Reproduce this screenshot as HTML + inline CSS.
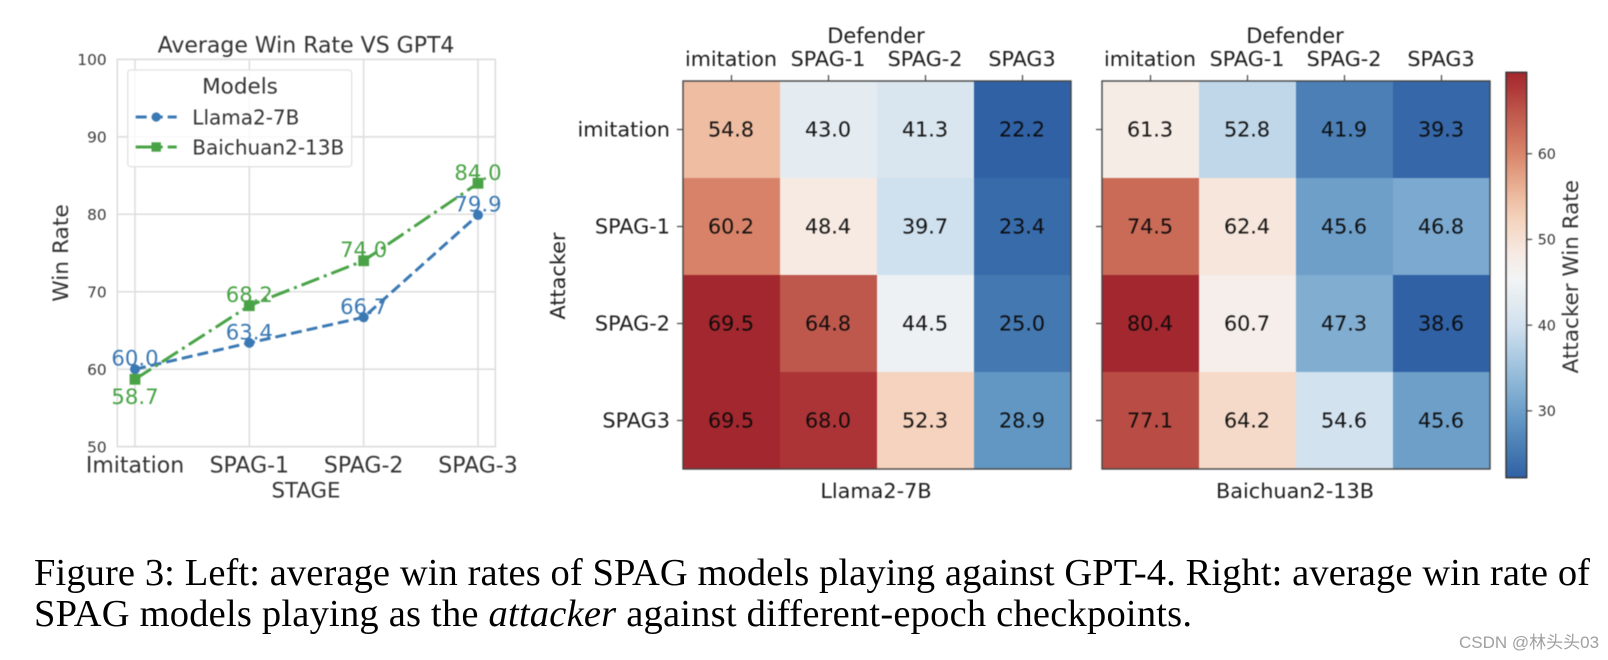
<!DOCTYPE html>
<html lang="en">
<head>
<meta charset="utf-8">
<title>Figure 3: win rates of SPAG models</title>
<style>
  html, body { margin: 0; padding: 0; background: #fff; }
  body { width: 1608px; height: 660px; overflow: hidden; }
  svg { display: block; }
  .dv { font-family: "DejaVu Sans", sans-serif; }
  #charts { filter: blur(0.5px); }
  #caption { filter: blur(0.3px); }
</style>
</head>
<body>
<svg id="figure" xmlns="http://www.w3.org/2000/svg" width="1608" height="660" viewBox="0 0 1608 660">
  <g id="charts" class="dv">
    <g id="line-chart">
      <text x="306" y="52.5" font-size="22" text-anchor="middle" fill="#333">Average Win Rate VS GPT4</text>
      <text transform="translate(68,253) rotate(-90)" font-size="21.7" text-anchor="middle" fill="#333">Win Rate</text>
      <text x="306" y="497.5" font-size="21.3" text-anchor="middle" fill="#333">STAGE</text>
    </g>
    <g id="heatmap-llama"></g>
    <g id="heatmap-baichuan"></g>
    <g id="colorbar">
      <text transform="translate(1578,276.7) rotate(-90)" font-size="21.5" text-anchor="middle" fill="#333">Attacker Win Rate</text>
    </g>
    <text transform="translate(565,276) rotate(-90)" font-size="20.8" text-anchor="middle" fill="#222">Attacker</text>
  </g>
  <g id="caption" font-family="'Liberation Serif', serif" font-size="38.5" fill="#000">
    <text x="34" y="585" textLength="1556" lengthAdjust="spacing">Figure 3: Left: average win rates of SPAG models playing against GPT-4. Right: average win rate of</text>
    <text x="34" y="626" textLength="1158" lengthAdjust="spacing">SPAG models playing as the <tspan font-style="italic">attacker</tspan> against different-epoch checkpoints.</text>
  </g>
  <text x="1459" y="648" font-size="17" fill="#a0a0a0" font-family="'Liberation Sans', 'Noto Sans CJK SC', sans-serif">CSDN @林头头03</text>
</svg>
<script>
// ---------- chart data ----------
const stages = ['Imitation', 'SPAG-1', 'SPAG-2', 'SPAG-3'];
const llamaWinRates = [60.0, 63.4, 66.7, 79.9];
const baichuanWinRates = [58.7, 68.2, 74.0, 84.0];
const winRateTicks = [50, 60, 70, 80, 90, 100];
const defenders = ['imitation', 'SPAG-1', 'SPAG-2', 'SPAG3'];
const attackers = ['imitation', 'SPAG-1', 'SPAG-2', 'SPAG3'];
const llamaMatrix = [
  [54.8, 43.0, 41.3, 22.2],
  [60.2, 48.4, 39.7, 23.4],
  [69.5, 64.8, 44.5, 25.0],
  [69.5, 68.0, 52.3, 28.9]
];
const baichuanMatrix = [
  [61.3, 52.8, 41.9, 39.3],
  [74.5, 62.4, 45.6, 46.8],
  [80.4, 60.7, 47.3, 38.6],
  [77.1, 64.2, 54.6, 45.6]
];
const colorbarTicks = [30, 40, 50, 60];

// ---------- helpers ----------
const NS = 'http://www.w3.org/2000/svg';
function make(tag, attrs, parent, text) {
  const el = document.createElementNS(NS, tag);
  for (const k in attrs) el.setAttribute(k, attrs[k]);
  if (text !== undefined) el.textContent = text;
  parent.appendChild(el);
  return el;
}
function fmt(v) { return v.toFixed(1); }

// ---------- colour map (diverging, sampled from the colour bar) ----------
const cmapStops = [
  [0.00, '#3061a5'], [0.06, '#4478b0'], [0.14, '#6196c4'], [0.25, '#94bbd9'],
  [0.37, '#cfe0ee'], [0.44, '#e4ecf1'], [0.49, '#f2f4f5'], [0.55, '#f6ebe4'],
  [0.635, '#f5d4bf'], [0.69, '#eebda2'], [0.80, '#d9856a'], [0.90, '#bf584c'],
  [0.97, '#ac3336'], [1.00, '#a2272e']
];
function hexRgb(h) {
  return [parseInt(h.slice(1, 3), 16), parseInt(h.slice(3, 5), 16), parseInt(h.slice(5, 7), 16)];
}
function cmap(t) {
  const c = Math.max(0, Math.min(1, t));
  for (let i = 1; i < cmapStops.length; i++) {
    if (c <= cmapStops[i][0]) {
      const a = cmapStops[i - 1], b = cmapStops[i];
      const f = (c - a[0]) / (b[0] - a[0]);
      const A = hexRgb(a[1]), B = hexRgb(b[1]);
      return 'rgb(' + A.map((x, j) => Math.round(x + (B[j] - x) * f)).join(',') + ')';
    }
  }
  return cmapStops[cmapStops.length - 1][1];
}

// ---------- line chart ----------
const plotL = 117.3, plotR = 495.3, plotT = 59.3, plotB = 446.7;
const yMin = 50, yMax = 100;
function lineX(i) { return 135 + i * (343 / (stages.length - 1)); }
function lineY(v) { return plotB - (v - yMin) / (yMax - yMin) * (plotB - plotT); }

const lineRoot = document.getElementById('line-chart');
const gridCol = '#dedede';
winRateTicks.forEach(function (t) {
  const g = make('line', { x1: plotL, x2: plotR, y1: lineY(t), y2: lineY(t), stroke: gridCol, 'stroke-width': 1.6 }, lineRoot);
  
  
  const l = make('text', { x: 106.7, y: lineY(t) + 5.6, 'font-size': 15.4, 'text-anchor': 'end', fill: '#3c3c3c' }, lineRoot, String(t));
  
  
});
stages.forEach(function (s, i) {
  const g = make('line', { x1: lineX(i), x2: lineX(i), y1: plotT, y2: plotB, stroke: gridCol, 'stroke-width': 1.6 }, lineRoot);
  
  
  const l = make('text', { x: lineX(i), y: 472.5, 'font-size': 22, 'text-anchor': 'middle', fill: '#333' }, lineRoot, s);
  
  
});
const frame = make('rect', { x: plotL, y: plotT, width: plotR - plotL, height: plotB - plotT, fill: 'none', stroke: gridCol, 'stroke-width': 1.6 }, lineRoot);



const blue = '#3b79b4', green = '#49a346';
const blueDash = '11 5', greenDash = '19 5 3 5';

function drawSeries(values, color, dash, marker, name) {
  const pts = values.map(function (v, i) { return lineX(i) + ',' + lineY(v); }).join(' ');
  const p = make('polyline', { points: pts, fill: 'none', stroke: color, 'stroke-width': 3, 'stroke-dasharray': dash }, lineRoot);
  
  
}
function drawMarkers(values, color, marker, name, labelBelow) {
  values.forEach(function (v, i) {
    let m;
    if (marker === 'circle') {
      m = make('circle', { cx: lineX(i), cy: lineY(v), r: 5, fill: color }, lineRoot);
    } else {
      m = make('rect', { x: lineX(i) - 5.4, y: lineY(v) - 5.4, width: 10.8, height: 10.8, fill: color }, lineRoot);
    }
    
    
    const dy = labelBelow(i) ? 24.5 : -3.5;
    const t = make('text', { x: lineX(i), y: lineY(v) + dy, 'font-size': 21.2, 'text-anchor': 'middle', fill: color }, lineRoot, fmt(v));
    
    
  });
}
drawSeries(llamaWinRates, blue, blueDash, 'circle', 'llama');
drawSeries(baichuanWinRates, green, greenDash, 'square', 'baichuan');
drawMarkers(llamaWinRates, blue, 'circle', 'llama', function () { return false; });
drawMarkers(baichuanWinRates, green, 'square', 'baichuan', function (i) { return baichuanWinRates[i] < llamaWinRates[i]; });

// legend
const legend = make('g', {}, lineRoot);


const legendBox = make('rect', { x: 127.7, y: 70, width: 224, height: 96.7, rx: 3, fill: '#fff', 'fill-opacity': 0.82, stroke: '#e2e2e2', 'stroke-width': 1.3 }, legend);


const legendTitle = make('text', { x: 240, y: 93.5, 'font-size': 21.5, 'text-anchor': 'middle', fill: '#333' }, legend, 'Models');



const legendL1 = make('line', { x1: 135.7, x2: 176.7, y1: 117, y2: 117, stroke: blue, 'stroke-width': 3, 'stroke-dasharray': blueDash }, legend);


const legendM1 = make('circle', { cx: 156.2, cy: 117, r: 4.6, fill: blue }, legend);


const legendT1 = make('text', { x: 192.3, y: 124.5, 'font-size': 20, fill: '#333' }, legend, 'Llama2-7B');



const legendL2 = make('line', { x1: 135.7, x2: 176.7, y1: 147, y2: 147, stroke: green, 'stroke-width': 3, 'stroke-dasharray': greenDash }, legend);


const legendM2 = make('rect', { x: 151.5, y: 142.3, width: 9.4, height: 9.4, fill: green }, legend);


const legendT2 = make('text', { x: 192.3, y: 154.5, 'font-size': 20, fill: '#333' }, legend, 'Baichuan2-13B');



// ---------- heatmaps ----------
const cellSize = 97, heatTop = 81;
function drawHeatmap(rootId, left, matrix, title, showRowLabels) {
  const root = document.getElementById(rootId);
  const flat = matrix.reduce(function (a, r) { return a.concat(r); }, []);
  const vMin = Math.min.apply(null, flat), vMax = Math.max.apply(null, flat);
  const colX = function (j) { return left + j * cellSize; };
  const rowY = function (i) { return heatTop + i * cellSize; };
  const size = cellSize * defenders.length;

  matrix.forEach(function (row, i) {
    row.forEach(function (v, j) {
      const c = make('rect', { x: colX(j), y: rowY(i), width: cellSize + 0.4, height: cellSize + 0.4, fill: cmap((v - vMin) / (vMax - vMin)) }, root);
      
      
    });
  });
  matrix.forEach(function (row, i) {
    row.forEach(function (v, j) {
      const t = make('text', { x: colX(j) + cellSize / 2 - 0.5, y: rowY(i) + cellSize / 2 + 7, 'font-size': 20.7, 'text-anchor': 'middle', fill: '#0a0a0a', 'fill-opacity': 0.95 }, root, fmt(v));
      
      
    });
  });
  const border = make('rect', { x: left, y: heatTop, width: size, height: size, fill: 'none', stroke: '#444', 'stroke-width': 1.4 }, root);
  
  

  defenders.forEach(function (d, j) {
    const cx = colX(j) + cellSize / 2;
    const tick = make('line', { x1: cx, x2: cx, y1: heatTop - 6, y2: heatTop, stroke: '#444', 'stroke-width': 1.2 }, root);
    
    
    const l = make('text', { x: cx - 0.5, y: 66, 'font-size': 20.7, 'text-anchor': 'middle', fill: '#1c1c1c' }, root, d);
    
    
  });
  attackers.forEach(function (a, i) {
    const cy = rowY(i) + cellSize / 2;
    const tick = make('line', { x1: left - 6, x2: left, y1: cy, y2: cy, stroke: '#444', 'stroke-width': 1.2 }, root);
    
    
    if (showRowLabels) {
      const l = make('text', { x: left - 13, y: cy + 7, 'font-size': 20.8, 'text-anchor': 'end', fill: '#1c1c1c' }, root, a);
      
      
    }
  });
  const head = make('text', { x: left + size / 2 - 1, y: 43, 'font-size': 21, 'text-anchor': 'middle', fill: '#1c1c1c' }, root, 'Defender');
  
  
  const foot = make('text', { x: left + size / 2 - 1, y: 498, 'font-size': 20.8, 'text-anchor': 'middle', fill: '#1c1c1c' }, root, title);
  
  
}
drawHeatmap('heatmap-llama', 683, llamaMatrix, 'Llama2-7B', true);
drawHeatmap('heatmap-baichuan', 1102, baichuanMatrix, 'Baichuan2-13B', false);

// ---------- colour bar ----------
const cbRoot = document.getElementById('colorbar');
const cbL = 1506, cbR = 1526.7, cbT = 72.3, cbB = 477.7;
const cbFlat = llamaMatrix.reduce(function (a, r) { return a.concat(r); }, []);
const cbMin = Math.min.apply(null, cbFlat), cbMax = Math.max.apply(null, cbFlat);
function cbY(v) { return cbB - (v - cbMin) / (cbMax - cbMin) * (cbB - cbT); }

const defs = make('defs', {}, cbRoot);
const grad = make('linearGradient', { id: 'cb-gradient', x1: 0, x2: 0, y1: 1, y2: 0 }, defs);
cmapStops.forEach(function (s) {
  make('stop', { offset: s[0], 'stop-color': s[1] }, grad);
});
const cbRect = make('rect', { x: cbL, y: cbT, width: cbR - cbL, height: cbB - cbT, fill: 'url(#cb-gradient)', stroke: '#333', 'stroke-width': 1.4 }, cbRoot);


colorbarTicks.forEach(function (t) {
  const tick = make('line', { x1: cbR, x2: cbR + 5.5, y1: cbY(t), y2: cbY(t), stroke: '#444', 'stroke-width': 1.2 }, cbRoot);
  
  
  const l = make('text', { x: 1537.7, y: cbY(t) + 5.2, 'font-size': 14.3, fill: '#333' }, cbRoot, String(t));
  
  
});
</script>
</body>
</html>
